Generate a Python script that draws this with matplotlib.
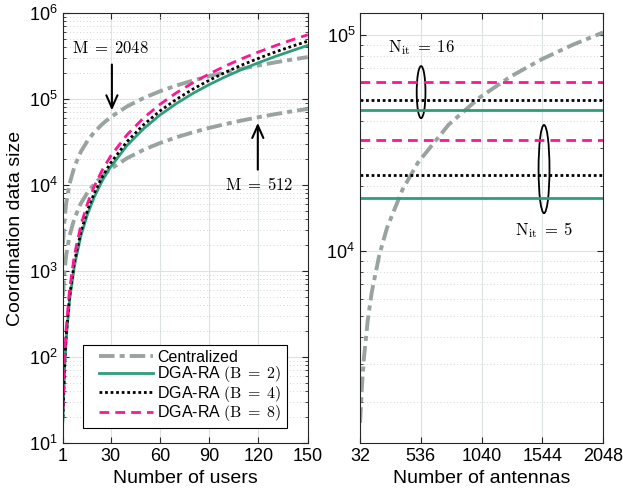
import matplotlib
matplotlib.use("Agg")
import numpy as np
import matplotlib.pyplot as plt
from matplotlib.patches import Ellipse

plt.rcParams['font.family'] = ['Liberation Sans', 'DejaVu Sans']
plt.rcParams['mathtext.fontset'] = 'cm'

# left panel: number of users
users = [1, 2, 3, 5, 8, 12, 16, 20, 25, 30, 40, 50, 60, 70, 80, 90, 100, 110, 120, 130, 140, 150]
cent_2048 = [2048, 4096, 6144, 10240, 16384, 24576, 32768, 40960, 51200, 61440, 81920, 102400,
             122880, 143360, 163840, 184320, 204800, 225280, 245760, 266240, 286720, 307200]
cent_512 = [512, 1024, 1536, 2560, 4096, 6144, 8192, 10240, 12800, 15360, 20480, 25600,
            30720, 35840, 40960, 46080, 51200, 56320, 61440, 66560, 71680, 76800]
dga_b2 = [18, 72, 162, 450, 1150, 2600, 4600, 7200, 11300, 16200, 28800, 45000,
          65000, 88500, 116000, 147000, 182000, 221000, 264000, 311000, 362000, 420000]
dga_b4 = [20, 80, 180, 500, 1280, 2880, 5120, 8000, 12500, 18000, 32000, 50000,
          72500, 99000, 130000, 165000, 205000, 249000, 297000, 351000, 408000, 470000]
dga_b8 = [24, 96, 216, 600, 1540, 3460, 6150, 9600, 15000, 21600, 38400, 60000,
          86500, 118000, 154000, 196000, 243000, 295000, 352000, 415000, 484000, 558000]

# right panel: number of antennas
antennas = [32, 48, 64, 96, 128, 192, 256, 384, 512, 768, 1024, 1280, 1536, 1792, 2048]
cent_ant = [1600, 2400, 3200, 4800, 6400, 9600, 12800, 19200, 25600, 38400, 51200,
            64000, 76800, 89600, 102400]
nit16 = {'B2': 45000, 'B4': 50000, 'B8': 60300}
nit5 = {'B2': 17500, 'B4': 22500, 'B8': 32600}

gray = '#9AA49F'
green = '#2E9E7A'
pink = '#FF1493'
cent_ls = (0, (4, 1.3, 1.3, 1.3))
dot_ls = (0, (1, 1))
dash_ls = (0, (3.5, 2.2))

fig = plt.figure(figsize=(6.23, 5), dpi=100)
ax1 = fig.add_axes([0.101, 0.114, 0.393, 0.86])
ax2 = fig.add_axes([0.578, 0.114, 0.390, 0.86])

ax1.plot(users, cent_2048, color=gray, lw=2.8, ls=cent_ls, label='Centralized')
ax1.plot(users, cent_512, color=gray, lw=2.8, ls=cent_ls)
ax1.plot(users, dga_b2, color=green, lw=2, label=r'DGA-RA $(\mathrm{B}\;=\;2)$')
ax1.plot(users, dga_b4, color='black', lw=2, ls=dot_ls, label=r'DGA-RA $(\mathrm{B}\;=\;4)$')
ax1.plot(users, dga_b8, color=pink, lw=2, ls=dash_ls, label=r'DGA-RA $(\mathrm{B}\;=\;8)$')

ax1.set_yscale('log')
ax1.set_xlim(1, 150)
ax1.set_ylim(10, 1e6)
ax1.set_xticks([1, 30, 60, 90, 120, 150])
ax1.set_xlabel('Number of users', fontsize=14)
ax1.set_ylabel('Coordination data size', fontsize=14)

arrow = dict(arrowstyle='->,head_width=0.4,head_length=0.9', lw=1.5, color='black')
ax1.annotate('', xy=(30.8, 6.85e4), xytext=(30.8, 2.71e5), arrowprops=arrow)
ax1.text(29.6, 3.95e5, r'$\mathrm{M}\;=\;2048$', fontsize=12, ha='center', va='center')
ax1.annotate('', xy=(119.6, 5.68e4), xytext=(119.6, 1.4e4), arrowprops=arrow)
ax1.text(120.2, 1.0e4, r'$\mathrm{M}\;=\;512$', fontsize=12, ha='center', va='center')

leg = ax1.legend(loc='lower left', bbox_to_anchor=(0.082, 0.035), borderaxespad=0,
                 fontsize=11.5, handlelength=4.1, labelspacing=-0.03, fancybox=False,
                 framealpha=1, edgecolor='black', borderpad=0.3, handletextpad=0.25)
leg.get_frame().set_linewidth(0.8)
# leave a gap before the legend handles, like the original
for ln in leg.get_lines():
    xd = np.asarray(ln.get_xdata(), dtype=float)
    ln.set_xdata(np.linspace(xd[0] + 8, xd[-1], len(xd)))

ax2.plot(antennas, cent_ant, color=gray, lw=2.8, ls=cent_ls)
for grp in (nit16, nit5):
    ax2.plot([antennas[0], antennas[-1]], [grp['B2']] * 2, color=green, lw=2)
    ax2.plot([antennas[0], antennas[-1]], [grp['B4']] * 2, color='black', lw=2, ls=dot_ls)
    ax2.plot([antennas[0], antennas[-1]], [grp['B8']] * 2, color=pink, lw=2, ls=dash_ls)

ax2.set_yscale('log')
ax2.set_xlim(32, 2048)
ax2.set_ylim(1290, 1.26e5)
ax2.set_xticks([32, 536, 1040, 1544, 2048])
ax2.set_xlabel('Number of antennas', fontsize=14)

ax2.add_patch(Ellipse((0.251, 0.816), 0.036, 0.121, transform=ax2.transAxes,
                      fill=False, ec='black', lw=1.3))
ax2.add_patch(Ellipse((0.757, 0.637), 0.045, 0.205, transform=ax2.transAxes,
                      fill=False, ec='black', lw=1.3))
ax2.text(0.251, 0.92, r'$\mathrm{N}_{\mathrm{it}}\;=\;16$', transform=ax2.transAxes,
         fontsize=12, ha='center', va='center')
ax2.text(0.757, 0.495, r'$\mathrm{N}_{\mathrm{it}}\;=\;5$', transform=ax2.transAxes,
         fontsize=12, ha='center', va='center')

for ax in (ax1, ax2):
    ax.tick_params(which='both', direction='in', top=True, right=True, labelsize=13,
                   color='#262626')
    ax.tick_params(which='major', length=4)
    ax.tick_params(which='minor', length=2.5)
    ax.grid(True, which='major', color='#dde3e3', lw=0.8)
    ax.grid(True, which='minor', axis='y', color='#c8c8c8', lw=0.6, ls=(0, (1, 3)))
    ax.set_axisbelow(True)
    for s in ax.spines.values():
        s.set_color('#262626')
        s.set_linewidth(0.8)

fig.savefig('out.png', dpi=100)
